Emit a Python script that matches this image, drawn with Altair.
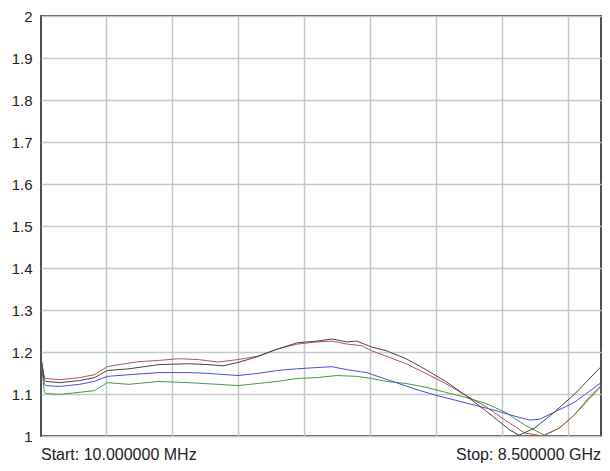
import altair as alt
import pandas as pd

# Frequencies in GHz and SWR values
red_f = [0.01, 0.06, 0.085, 0.295, 0.595, 0.82, 1.015, 1.195, 1.495, 1.795, 2.095, 2.395, 2.695, 2.995, 3.295, 3.595, 3.895, 4.195, 4.42, 4.645, 4.87, 5.02, 5.245, 5.545, 5.845, 6.145, 6.445, 6.745, 7.045, 7.345, 7.615, 7.87, 8.095, 8.32, 8.5]
red_v = [1.185, 1.14, 1.137, 1.134, 1.139, 1.146, 1.165, 1.17, 1.177, 1.18, 1.184, 1.182, 1.176, 1.182, 1.19, 1.207, 1.219, 1.224, 1.226, 1.219, 1.215, 1.203, 1.19, 1.172, 1.149, 1.125, 1.097, 1.071, 1.038, 1.007, 1.0, 1.019, 1.05, 1.092, 1.12]

blk_f = [0.01, 0.06, 0.085, 0.295, 0.595, 0.82, 1.015, 1.345, 1.795, 2.245, 2.545, 2.77, 2.995, 3.295, 3.595, 3.895, 4.195, 4.42, 4.645, 4.795, 5.02, 5.245, 5.545, 5.845, 6.145, 6.445, 6.745, 6.97, 7.12, 7.255, 7.495, 7.795, 8.095, 8.5]
blk_v = [1.185, 1.134, 1.13, 1.127, 1.132, 1.139, 1.156, 1.16, 1.17, 1.172, 1.17, 1.167, 1.175, 1.189, 1.207, 1.222, 1.226, 1.231, 1.224, 1.226, 1.212, 1.203, 1.184, 1.158, 1.13, 1.097, 1.061, 1.033, 1.014, 1.002, 1.019, 1.057, 1.099, 1.165]

blu_f = [0.01, 0.06, 0.085, 0.295, 0.595, 0.82, 1.015, 1.345, 1.795, 2.245, 2.545, 2.995, 3.295, 3.595, 3.895, 4.195, 4.42, 4.645, 4.945, 5.17, 5.395, 5.695, 5.995, 6.295, 6.595, 6.895, 7.195, 7.42, 7.57, 7.795, 8.095, 8.5]
blu_v = [1.185, 1.124, 1.12, 1.118, 1.123, 1.13, 1.142, 1.146, 1.151, 1.151, 1.149, 1.144, 1.149, 1.156, 1.16, 1.163, 1.165, 1.158, 1.151, 1.139, 1.127, 1.111, 1.097, 1.085, 1.073, 1.061, 1.047, 1.038, 1.04, 1.057, 1.08, 1.127]

grn_f = [0.01, 0.06, 0.085, 0.295, 0.595, 0.82, 1.015, 1.345, 1.795, 2.245, 2.695, 2.995, 3.295, 3.595, 3.895, 4.195, 4.495, 4.795, 5.02, 5.245, 5.545, 5.845, 6.145, 6.445, 6.745, 7.045, 7.345, 7.645, 7.87, 8.095, 8.5]
grn_v = [1.185, 1.105, 1.101, 1.099, 1.104, 1.108, 1.127, 1.123, 1.13, 1.127, 1.123, 1.12, 1.125, 1.13, 1.137, 1.139, 1.144, 1.142, 1.137, 1.13, 1.125, 1.116, 1.104, 1.092, 1.078, 1.057, 1.026, 1.002, 1.019, 1.05, 1.118]

series_names = ["Green", "Blue", "Red", "Black"]
series_colors = ["#3f9f3f", "#4a4ae0", "#b05555", "#454545"]

y_ticks = [1.0, 1.1, 1.2, 1.3, 1.4, 1.5, 1.6, 1.7, 1.8, 1.9, 2.0]
x_grid = [1, 2, 3, 4, 5, 6, 7, 8]
start_label = ["Start: 10.000000 MHz"]
stop_label = ["Stop: 8.500000 GHz"]

rows = []
for name, fs, vs in [("Green", grn_f, grn_v), ("Blue", blu_f, blu_v),
                     ("Red", red_f, red_v), ("Black", blk_f, blk_v)]:
    for i, (f, v) in enumerate(zip(fs, vs)):
        rows.append({"series": name, "freq": f, "swr": v, "order": i})
df = pd.DataFrame(rows)

W, H = 560, 420
FONT = "Liberation Sans"

lines = alt.Chart(df).mark_line(strokeWidth=1, clip=True).encode(
    x=alt.X("freq:Q", scale=alt.Scale(domain=[0.01, 8.5], nice=False, zero=False),
            axis=alt.Axis(values=x_grid, labels=False, ticks=False, domain=False,
                          grid=True, title=None)),
    y=alt.Y("swr:Q", scale=alt.Scale(domain=[1, 2], nice=False, zero=False),
            axis=alt.Axis(values=y_ticks, format=".1~f", ticks=False, domain=False,
                          grid=True, title=None, labelFontSize=15, labelColor="#222222",
                          labelFont=FONT, labelPadding=9, labelFlush=False)),
    color=alt.Color("series:N", scale=alt.Scale(domain=series_names, range=series_colors),
                    legend=None),
    detail="series:N",
    order="order:Q",
)

start_txt = alt.Chart(pd.DataFrame({"t": start_label})).mark_text(
    align="left", baseline="alphabetic", fontSize=16, font=FONT, color="#222222"
).encode(x=alt.value(0), y=alt.value(H + 24), text="t:N")

stop_txt = alt.Chart(pd.DataFrame({"t": stop_label})).mark_text(
    align="right", baseline="alphabetic", fontSize=16, font=FONT, color="#222222"
).encode(x=alt.value(W), y=alt.value(H + 24), text="t:N")

chart = alt.layer(lines, start_txt, stop_txt).properties(
    width=W, height=H,
    autosize=alt.AutoSizeParams(type="none"),
    padding={"left": 33, "top": 8, "right": 1, "bottom": 27},
    background="white",
).configure_view(
    stroke="#505050", strokeWidth=2
).configure_axis(
    gridColor="#c6c6c6", gridWidth=1.5
)

chart.save("out.html", embed_options={"renderer": "svg", "actions": False})
